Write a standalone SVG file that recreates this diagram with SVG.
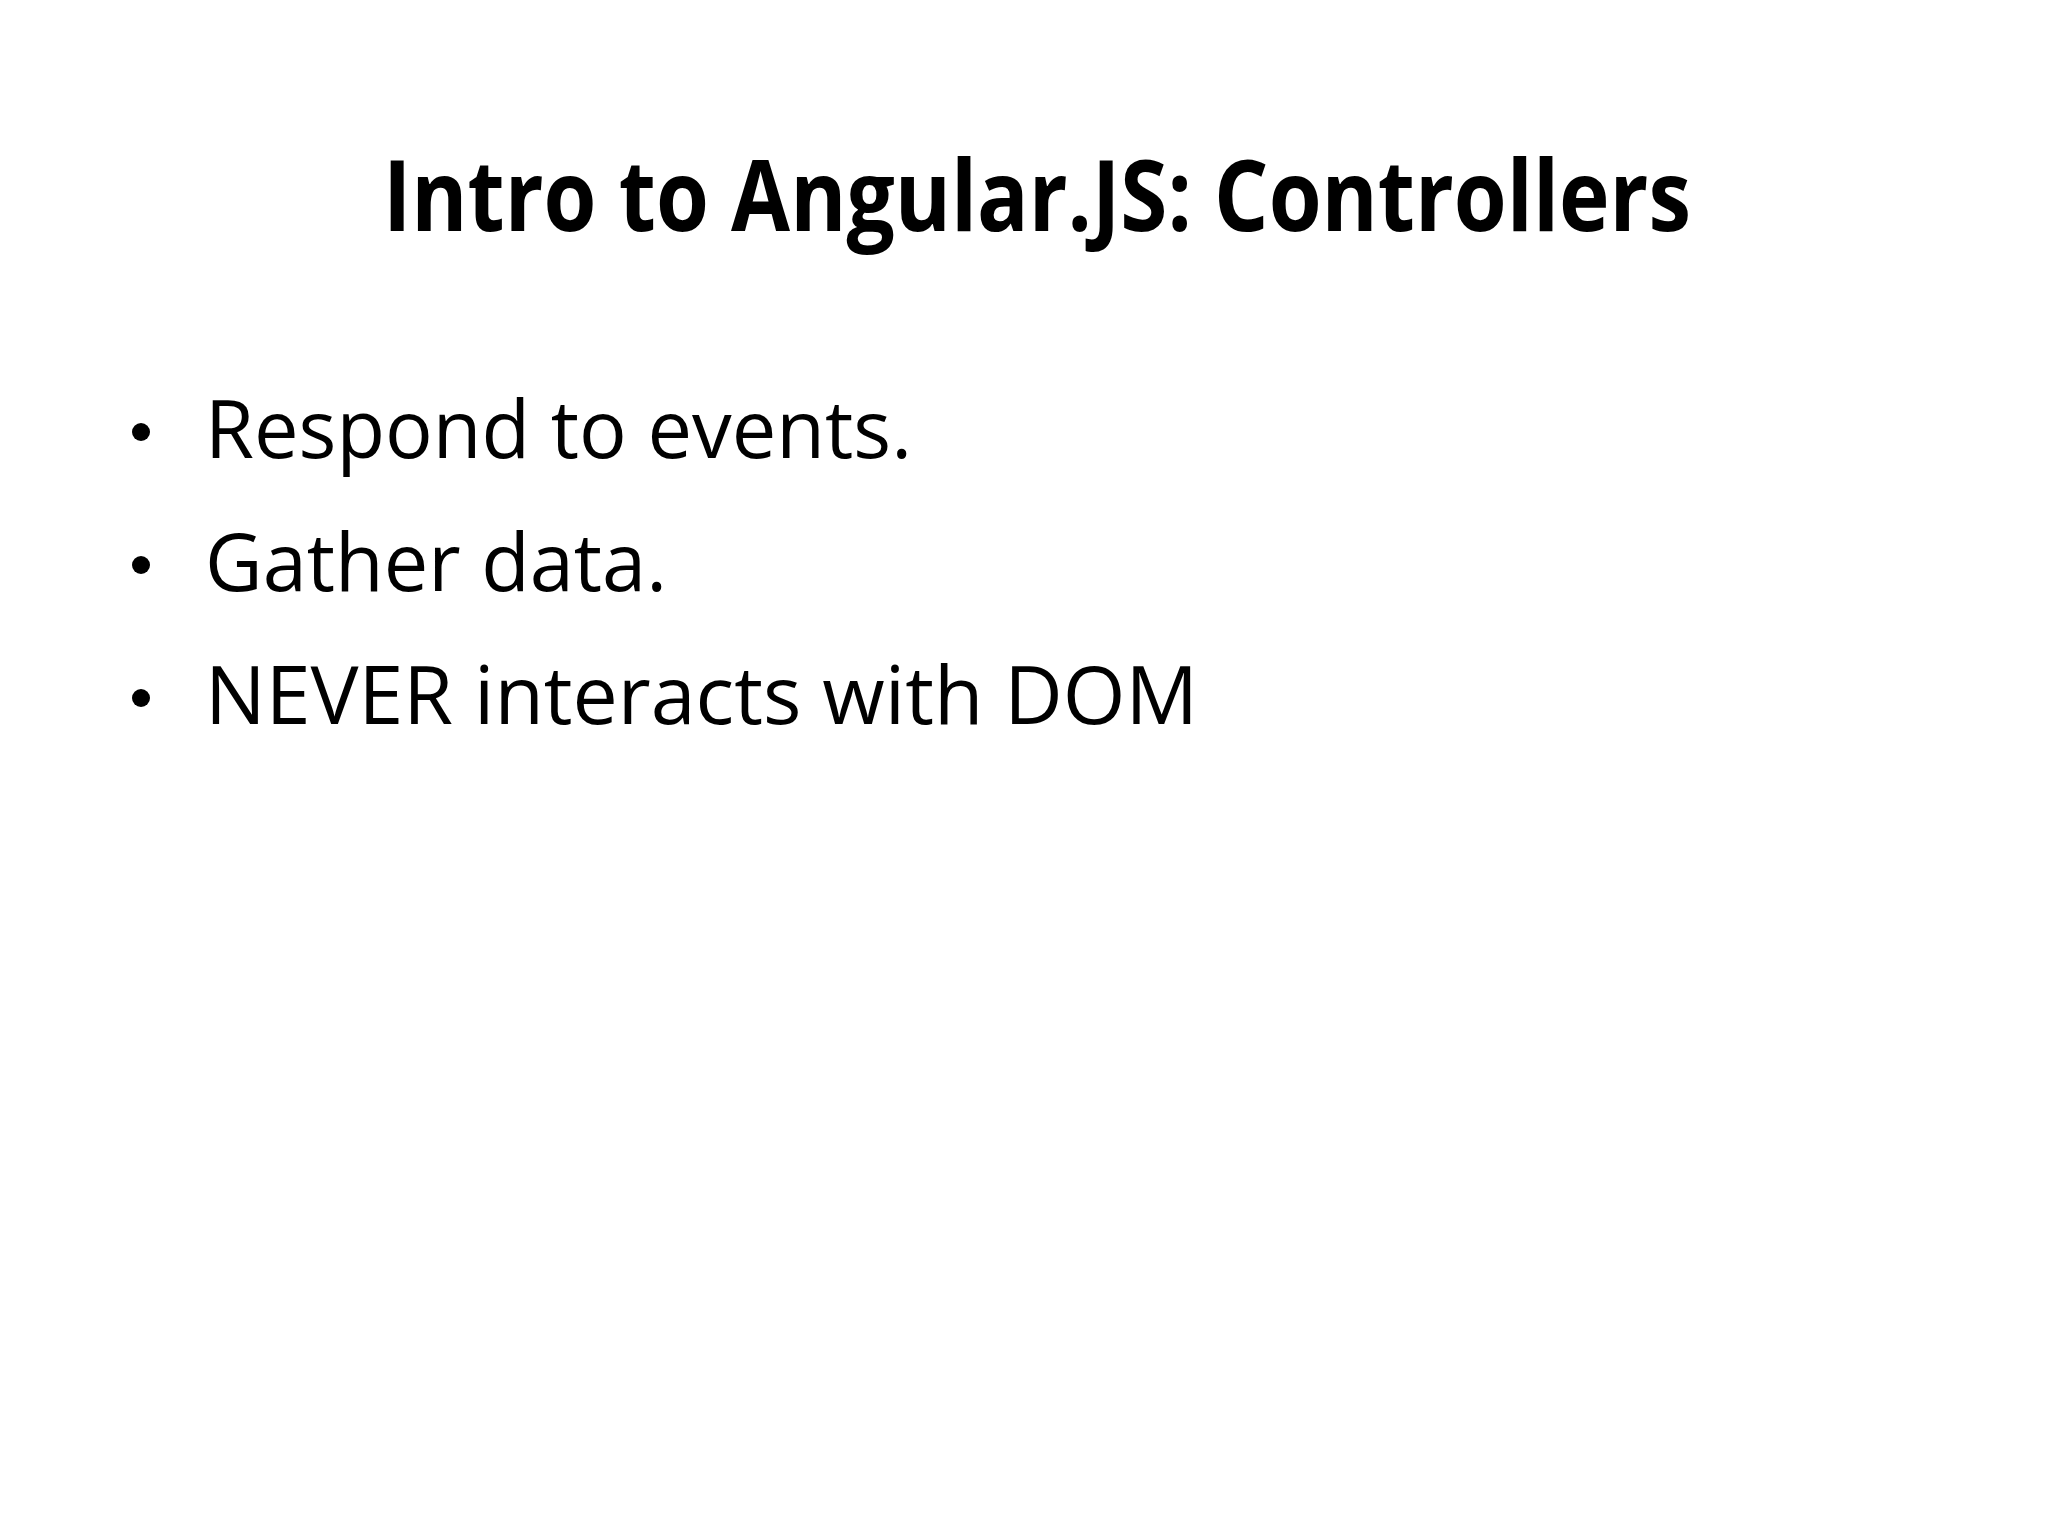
<svg xmlns="http://www.w3.org/2000/svg" width="2048" height="1536" viewBox="0 0 2048 1536">
<style>
.t{font-family:"Open Sans","Liberation Sans",sans-serif;fill:#000}
.h{font-size:98px;font-weight:bold}
.b{font-size:80px}
</style>
<rect width="2048" height="1536" fill="#fff"/>
<g id="title"><text class="t h" x="383" y="231" textLength="1308" lengthAdjust="spacingAndGlyphs">Intro to Angular.JS: Controllers</text></g>
<g id="bullets">
<circle cx="141" cy="432" r="9"/>
<circle cx="141" cy="565" r="9"/>
<circle cx="141" cy="698" r="9"/>
<text class="t b" x="205" y="458" textLength="707" lengthAdjust="spacingAndGlyphs">Respond to events.</text>
<text class="t b" x="205" y="591" textLength="462" lengthAdjust="spacingAndGlyphs">Gather data.</text>
<text class="t b" x="205" y="724" textLength="993" lengthAdjust="spacingAndGlyphs">NEVER interacts with DOM</text>
</g>
</svg>
